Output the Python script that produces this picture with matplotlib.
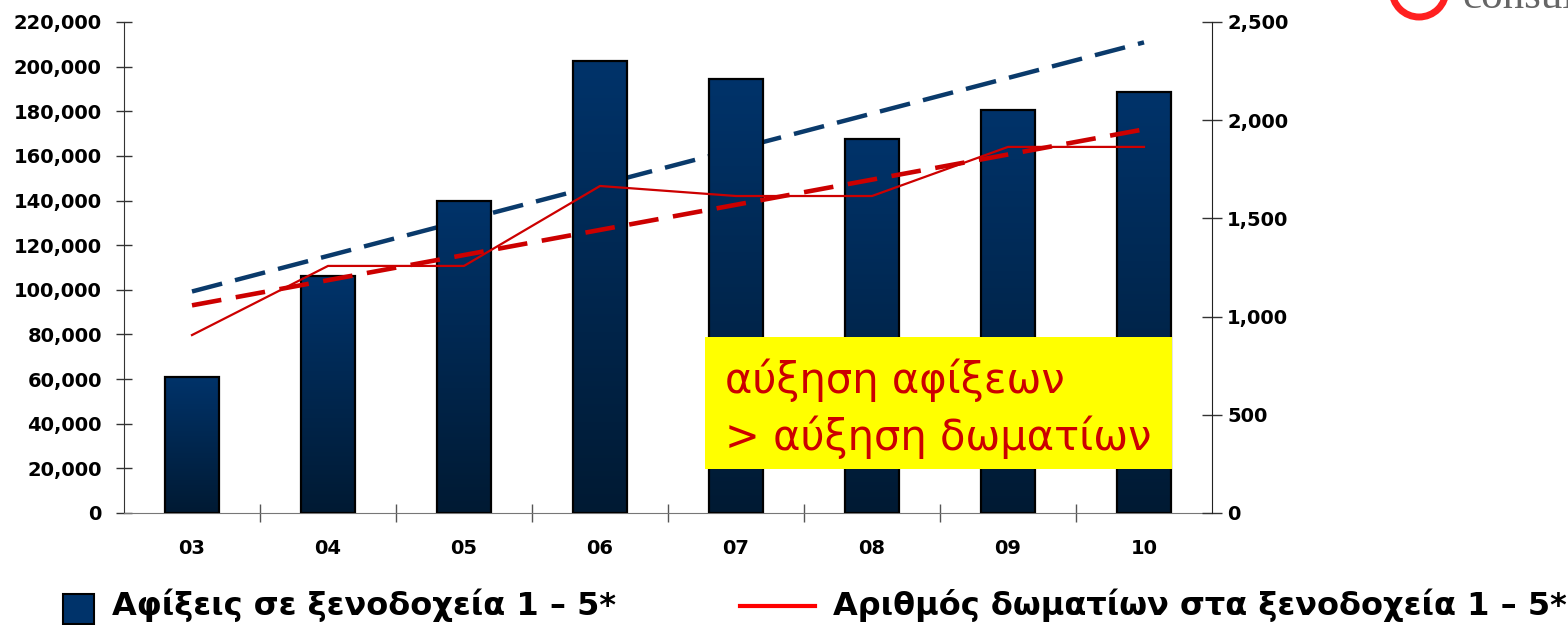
import numpy as np
import matplotlib
matplotlib.use('Agg')
import matplotlib.pyplot as plt
from matplotlib.colors import LinearSegmentedColormap
from matplotlib.patches import Rectangle, Ellipse
from matplotlib.lines import Line2D
from matplotlib.ticker import FuncFormatter, MultipleLocator, FixedLocator

# data
years = ['03', '04', '05', '06', '07', '08', '09', '10']
arrivals = [61000, 106000, 140000, 202500, 194500, 167500, 180500, 188500]
rooms = [906, 1258, 1258, 1665, 1614, 1614, 1864, 1864]

label_arrivals = 'Αφίξεις σε ξενοδοχεία 1 – 5*'
label_rooms = 'Αριθμός δωματίων στα ξενοδοχεία 1 – 5*'
note_lines = ['αύξηση αφίξεων', '> αύξηση δωματίων']

NAVY = '#00336a'
NAVY_DARK = '#001a33'
DASH_BLUE = '#0a3a6b'
RED = '#cc0000'

W, H = 1568, 625
fig = plt.figure(figsize=(W / 100, H / 100), dpi=100)
ax = fig.add_axes([124 / W, 112 / H, (1212 - 124) / W, (513 - 22) / H])
ax2 = ax.twinx()

x = np.arange(len(years))

# linear trends
a_fit = np.polyfit(x, arrivals, 1)
r_fit = np.polyfit(x, rooms, 1)

ax.plot(x, np.polyval(a_fit, x), color=DASH_BLUE, lw=3.2, dashes=(7, 3), zorder=1)

bars = ax.bar(x, arrivals, width=0.4, facecolor='none', edgecolor='black', lw=1.6, zorder=3)
cmap = LinearSegmentedColormap.from_list('bar', [NAVY_DARK, NAVY])
grad = np.linspace(0, 1, 256).reshape(-1, 1)
for b in bars:
    x0, w, h = b.get_x(), b.get_width(), b.get_height()
    im = ax.imshow(grad, extent=[x0, x0 + w, 0, h], origin='lower', aspect='auto',
                   cmap=cmap, zorder=2)
    im.set_clip_path(b)

ax2.plot(x, np.polyval(r_fit, x), color=RED, lw=3.3, dashes=(6.5, 3.2), zorder=2)
ax2.plot(x, rooms, color=RED, lw=1.6, zorder=3)

ax.set_xlim(-0.5, len(years) - 0.5)
ax.set_ylim(0, 220000)
ax2.set_ylim(0, 2500)

ax.yaxis.set_major_locator(MultipleLocator(20000))
ax.yaxis.set_major_formatter(FuncFormatter(lambda v, p: f'{int(v):,}'))
ax2.yaxis.set_major_locator(MultipleLocator(500))
ax2.yaxis.set_major_formatter(FuncFormatter(lambda v, p: f'{int(v):,}'))

ax.set_xticks(x)
ax.set_xticklabels(years)
ax.xaxis.set_minor_locator(FixedLocator(np.arange(0.5, len(years) - 1, 1.0)))
ax.tick_params(axis='x', which='major', length=0, pad=19)
ax.tick_params(axis='x', which='minor', direction='inout', length=13, width=1, color='#555555')
ax.tick_params(axis='y', direction='inout', length=12, width=1, color='#333333', pad=10)
ax2.tick_params(axis='y', direction='inout', length=14, width=1, color='#333333', pad=4)

for lab in ax.get_xticklabels() + ax.get_yticklabels() + ax2.get_yticklabels():
    lab.set_fontweight('bold')
    lab.set_fontsize(14)

ax.spines['top'].set_visible(False)
ax.spines['right'].set_visible(False)
for s in ['top', 'left', 'bottom']:
    ax2.spines[s].set_visible(False)
ax.spines['left'].set_color('#333333')
ax.spines['bottom'].set_color('#777777')
ax2.spines['right'].set_color('#222222')

# yellow note
fig.add_artist(Rectangle((705 / W, 1 - 469 / H), (1172 - 705) / W, (469 - 337) / H,
                         transform=fig.transFigure, facecolor='#ffff00', edgecolor='none', zorder=5))
fig.text(725 / W, 1 - 380 / H, note_lines[0], color=RED, fontsize=30, va='center', ha='left', zorder=6)
fig.text(725 / W, 1 - 437 / H, note_lines[1], color=RED, fontsize=30, va='center', ha='left', zorder=6)

# legend drawn by hand
fig.add_artist(Rectangle((63 / W, 1 - 624 / H), 31 / W, 30 / H, transform=fig.transFigure,
                         facecolor=NAVY, edgecolor='black', lw=1.5))
fig.text(112 / W, 1 - 615 / H, label_arrivals, fontsize=23, fontweight='bold', va='baseline', ha='left')
fig.add_artist(Line2D([740 / W, 815 / W], [1 - 606 / H, 1 - 606 / H], transform=fig.transFigure,
                      color='#ff0000', lw=3))
fig.text(833 / W, 1 - 615 / H, label_rooms, fontsize=23, fontweight='bold', va='baseline', ha='left')

# cut-off logo at top right
fig.add_artist(Ellipse((1419 / W, 1 + 10 / H), 54 / W, 54 / H, transform=fig.transFigure,
                       facecolor='none', edgecolor='#ff2020', lw=5))
fig.text(1462 / W, 1 - 8 / H, 'consult', fontsize=31, color='#666666', family='Liberation Serif',
         va='baseline', ha='left')

fig.savefig('out.png', dpi=100)
